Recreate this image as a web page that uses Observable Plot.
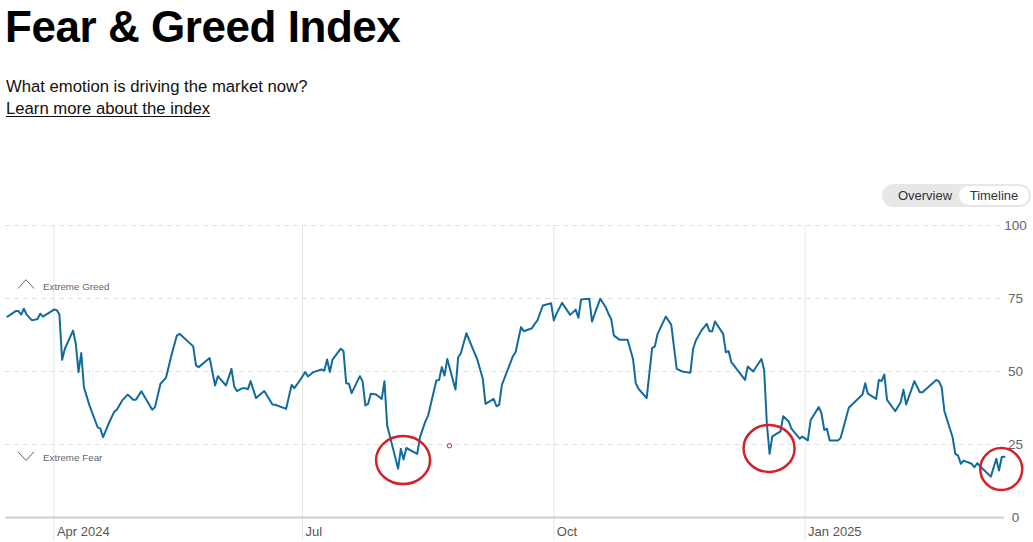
<!DOCTYPE html>
<html>
<head>
<meta charset="utf-8">
<script src="https://cdn.jsdelivr.net/npm/d3@7"></script>
<script src="https://cdn.jsdelivr.net/npm/@observablehq/plot@0.6"></script>
<style>
  html, body { margin: 0; padding: 0; background: #fff; }
  body { font-family: "Liberation Sans", Arial, Helvetica, sans-serif; }
  #wrap { position: relative; width: 1033px; height: 542px; overflow: hidden; }
  #title { position: absolute; left: 5px; top: 5px; margin: 0; font-size: 44px; line-height: 44px; font-weight: 700; letter-spacing: -0.45px; color: #000; white-space: nowrap; }
  #sub { position: absolute; left: 6px; top: 76px; font-size: 16.7px; line-height: 21.5px; color: #111; white-space: nowrap; }
  #sub a { color: #111; text-decoration: underline; text-underline-offset: 2px; }
  #toggle { position: absolute; left: 882px; top: 184px; width: 149px; height: 23px; border-radius: 11.5px; background: #e7e7e7; font-size: 13px; color: #333; }
  #toggle .opt { position: absolute; top: 0; height: 23px; line-height: 24px; text-align: center; }
  #toggle .on { background: #fff; top: 2px; height: 19px; line-height: 20px; border-radius: 9.5px; }
  #chart { position: absolute; left: 0; top: 210px; }
</style>
</head>
<body>
<div id="wrap">
  <h1 id="title">Fear &amp; Greed Index</h1>
  <div id="sub">What emotion is driving the market now?<br><a href="#">Learn more about the index</a></div>
  <div id="toggle">
    <span class="opt" style="left:0;width:86px;">Overview</span>
    <span class="opt on" style="left:77px;width:70px;">Timeline</span>
  </div>
  <div id="chart"></div>
</div>
<script>
// Fear & Greed index readings (date, value)
const fgiSeries = [
  ["2024-03-15",68.8],["2024-03-18",70.7],["2024-03-19",70.7],["2024-03-20",69.5],["2024-03-21",71.5],
  ["2024-03-22",69.5],["2024-03-24",67.5],["2024-03-26",68],["2024-03-27",69.8],["2024-03-28",68.8],
  ["2024-03-30",70],
  ["2024-04-01",71.2],["2024-04-02",71.1],["2024-04-03",69.5],["2024-04-04",54],["2024-04-05",57.8],
  ["2024-04-08",64],["2024-04-09",59.5],["2024-04-10",49.8],["2024-04-11",56.3],["2024-04-12",44.6],
  ["2024-04-14",38.4],["2024-04-17",30.9],["2024-04-18",30.4],["2024-04-19",27.5],["2024-04-21",32.1],
  ["2024-04-23",36.1],["2024-04-24",36.9],["2024-04-26",40.1],["2024-04-28",42.1],["2024-04-30",40.3],
  ["2024-05-01",40.3],["2024-05-03",43.2],["2024-05-07",36.9],["2024-05-08",37.8],["2024-05-10",45.8],
  ["2024-05-12",47.8],["2024-05-14",55.5],["2024-05-16",62.3],["2024-05-17",62.9],["2024-05-22",58.6],
  ["2024-05-23",52.1],["2024-05-24",51.5],["2024-05-28",54.6],["2024-05-30",45.2],["2024-05-31",48.4],
  ["2024-06-03",45.2],["2024-06-05",50.9],["2024-06-06",44.9],["2024-06-07",43.3],["2024-06-09",44.3],
  ["2024-06-10",44.3],["2024-06-11",43.9],["2024-06-12",46.7],["2024-06-14",40.9],["2024-06-17",43.3],
  ["2024-06-20",38.7],["2024-06-21",38.6],["2024-06-25",37.2],["2024-06-27",45.4],["2024-06-28",44.3],
  ["2024-06-30",46.9],
  ["2024-07-02",49.8],["2024-07-03",48.3],["2024-07-05",49.8],["2024-07-08",50.7],["2024-07-09",50.3],
  ["2024-07-10",54.1],["2024-07-11",49.8],["2024-07-12",54.1],["2024-07-15",57.8],["2024-07-16",57],
  ["2024-07-17",46],["2024-07-18",45.8],["2024-07-19",42.6],["2024-07-22",48.4],["2024-07-23",46.7],
  ["2024-07-24",38.4],["2024-07-25",38.9],["2024-07-26",42.4],["2024-07-28",42.1],["2024-07-30",40.6],
  ["2024-07-31",46.7],
  ["2024-08-01",31.5],["2024-08-03",24.1],["2024-08-05",16.7],["2024-08-06",23.5],["2024-08-07",19.9],
  ["2024-08-08",23.8],["2024-08-12",21.8],["2024-08-13",27.5],["2024-08-15",32.9],["2024-08-16",34.9],
  ["2024-08-19",46.9],["2024-08-20",47.1],["2024-08-21",51.5],["2024-08-22",48.6],["2024-08-23",54.3],
  ["2024-08-26",43.8],["2024-08-27",54.9],["2024-08-28",56.3],["2024-08-30",63.1],
  ["2024-09-03",54.1],["2024-09-05",47.5],["2024-09-06",38.9],["2024-09-09",40.6],["2024-09-10",38.1],
  ["2024-09-11",38.6],["2024-09-12",45.4],["2024-09-16",55.2],["2024-09-17",56.6],["2024-09-19",65.2],
  ["2024-09-20",63.8],["2024-09-23",64.8],["2024-09-24",66.3],["2024-09-25",67.5],["2024-09-27",72.6],
  ["2024-09-30",73.4],
  ["2024-10-01",67.5],["2024-10-02",69.8],["2024-10-04",73.5],["2024-10-07",69.4],["2024-10-09",71.2],
  ["2024-10-10",68.4],["2024-10-11",74.7],["2024-10-14",74.9],["2024-10-15",67.1],["2024-10-16",69.8],
  ["2024-10-18",74.9],["2024-10-20",72],["2024-10-21",69.8],["2024-10-22",68],["2024-10-23",62.3],
  ["2024-10-25",60.9],["2024-10-28",60.9],["2024-10-30",54.3],["2024-10-31",46],
  ["2024-11-01",44.1],["2024-11-04",40.9],["2024-11-06",58],["2024-11-07",58.6],["2024-11-08",62.9],
  ["2024-11-11",68.8],["2024-11-13",66],["2024-11-15",50.9],["2024-11-17",50],["2024-11-20",49.6],
  ["2024-11-21",57.8],["2024-11-22",60.6],["2024-11-24",64],["2024-11-26",66.3],["2024-11-27",63.8],
  ["2024-11-28",63.8],["2024-11-29",67.1],
  ["2024-12-02",62.9],["2024-12-03",56.6],["2024-12-04",57],["2024-12-05",53.2],["2024-12-10",47.1],
  ["2024-12-11",51.7],["2024-12-13",50],["2024-12-16",54.3],["2024-12-17",50.6],["2024-12-18",32.1],
  ["2024-12-19",21.8],["2024-12-20",27.8],["2024-12-23",29.5],["2024-12-24",34.7],["2024-12-26",32.9],
  ["2024-12-27",30.4],["2024-12-30",27],["2024-12-31",27.7],
  ["2025-01-02",26.4],["2025-01-03",33.3],["2025-01-06",37.8],["2025-01-07",35.7],["2025-01-08",30],
  ["2025-01-09",30.4],["2025-01-10",26.4],["2025-01-13",26.4],["2025-01-14",27.2],["2025-01-17",37.6],
  ["2025-01-22",42.1],["2025-01-23",46],["2025-01-24",42.4],["2025-01-27",40.6],["2025-01-28",47.1],
  ["2025-01-29",46.7],["2025-01-30",49],["2025-01-31",40.3],
  ["2025-02-03",36.4],["2025-02-05",39.5],["2025-02-06",43.8],["2025-02-07",38.7],["2025-02-10",46.7],
  ["2025-02-12",42.9],["2025-02-13",42.9],["2025-02-18",47.1],["2025-02-19",46.6],["2025-02-20",44.6],
  ["2025-02-21",36.4],["2025-02-24",27.5],["2025-02-25",21.8],["2025-02-26",21.2],["2025-02-27",18.4],
  ["2025-02-28",19.5],
  ["2025-03-03",18.4],["2025-03-04",17.2],["2025-03-05",18.6],["2025-03-07",16.7],["2025-03-10",14],
  ["2025-03-12",20.1],["2025-03-13",16.1],["2025-03-14",20.7],["2025-03-15",20.8]
];

const xTickDates = ["2024-04-01", "2024-07-01", "2024-10-01", "2025-01-01"];
const xTickLabels = ["Apr 2024", "Jul", "Oct", "Jan 2025"];
const yTicks = [0, 25, 50, 75, 100];
const gridLevels = [25, 50, 75, 100];
const zoneLabels = ["Extreme Greed", "Extreme Fear"];
const zoneLevels = [75, 25];

// hand-drawn highlight rings (centre date, centre value)
const ringDates = ["2024-08-07", "2024-12-19", "2025-03-14", "2024-08-24"];
const ringValues = [19.5, 23.5, 16.4, 24.4];

// ---- build tables ----
const parse = d3.utcParse("%Y-%m-%d");
const series = fgiSeries.map(([d, v]) => ({date: parse(d), value: v}));
const ticks = xTickDates.map(parse);
const tickLabel = new Map(ticks.map((t, i) => [+t, xTickLabels[i]]));
const rings = ringDates.map((d, i) => ({date: parse(d), value: ringValues[i]}));

// styling for rings (pixel radii) — presentation only
const ringRadii = [[27, 24], [25.5, 23.5], [21, 21], [2.2, 2.2]];
const ringWidths = [2.5, 2.5, 2.5, 1];

const chart = Plot.plot({
  width: 1033,
  height: 332,
  marginLeft: 7,
  marginRight: 29,
  marginTop: 15,
  marginBottom: 25,
  style: {fontFamily: "'Liberation Sans', Arial, sans-serif", background: "transparent", overflow: "visible"},
  x: {type: "utc"},
  y: {domain: [0, 100]},
  marks: [
    Plot.ruleX(ticks, {stroke: "#e6e6e6", strokeWidth: 1, insetBottom: -23}),
    Plot.ruleY(gridLevels, {stroke: "#e0e0e0", strokeDasharray: "5,4", insetLeft: -2}),
    Plot.ruleY([0], {stroke: "#cfcfcf", strokeWidth: 2, insetLeft: -2}),
    Plot.axisX({ticks, tickSize: 0, tickPadding: 9, tickFormat: d => tickLabel.get(+d), textAnchor: "start", dx: 3, fontSize: 13, fill: "#555", label: null}),
    Plot.axisY({anchor: "right", ticks: yTicks, tickSize: 0, tickPadding: 11, textAnchor: "middle", fontSize: 13.5, fill: "#666", label: null}),
    Plot.text([zoneLabels[0]], {y: [zoneLevels[0]], text: d => d, frameAnchor: "left", dx: 35.5, dy: -12, textAnchor: "start", fontSize: 9.8, fill: "#666"}),
    Plot.text([zoneLabels[1]], {y: [zoneLevels[1]], text: d => d, frameAnchor: "left", dx: 35.5, dy: 13.5, textAnchor: "start", fontSize: 9.8, fill: "#666"}),
    (index, scales, values, dimensions) => {
      const g = d3.create("svg:g").attr("fill", "none").attr("stroke", "#666").attr("stroke-width", 1);
      const yG = scales.y(zoneLevels[0]), yF = scales.y(zoneLevels[1]);
      const x0 = dimensions.marginLeft + 11;
      g.append("path").attr("d", `M${x0},${yG - 9.5}L${x0 + 8},${yG - 18.3}L${x0 + 16},${yG - 9.5}`);
      g.append("path").attr("d", `M${x0},${yF + 7.7}L${x0 + 8},${yF + 16.5}L${x0 + 16},${yF + 7.7}`);
      return g.node();
    },
    Plot.line(series, {x: "date", y: "value", stroke: "#136b9b", strokeWidth: 2, strokeLinejoin: "round"}),
    (index, scales) => {
      const g = d3.create("svg:g").attr("fill", "none").attr("stroke", "#d61f26");
      rings.forEach((r, i) => {
        g.append("ellipse")
          .attr("cx", scales.x(r.date))
          .attr("cy", scales.y(r.value))
          .attr("rx", ringRadii[i][0])
          .attr("ry", ringRadii[i][1])
          .attr("stroke-width", ringWidths[i]);
      });
      return g.node();
    }
  ]
});
document.getElementById("chart").appendChild(chart);
</script>
</body>
</html>
